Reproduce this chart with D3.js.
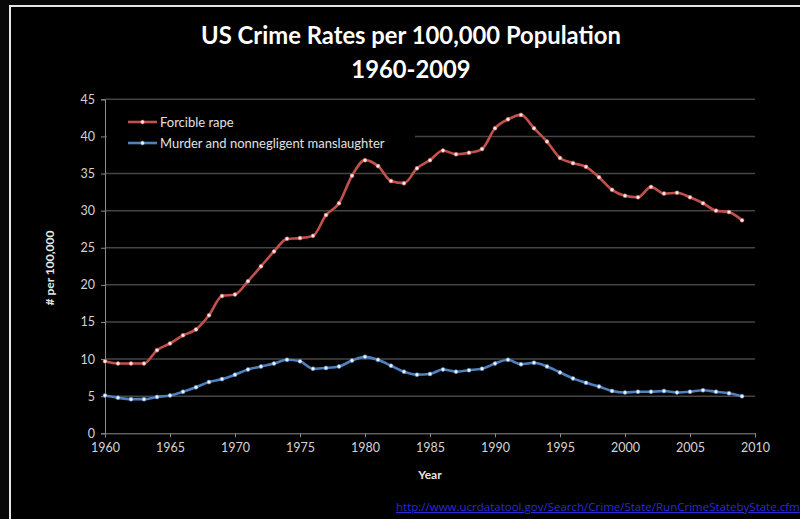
<!DOCTYPE html>
<html>
<head>
<meta charset="utf-8">
<script src="https://cdn.jsdelivr.net/npm/d3@7"></script>
<style>
  body { margin: 0; background: #080808; }
  svg { display: block; }
  text { font-family: Lato, "Open Sans", sans-serif; }
</style>
</head>
<body>
<svg id="chart" width="800" height="519"></svg>
<script>
'use strict';

// data
var years = d3.range(1960, 2010);
var rape = [9.7, 9.4, 9.4, 9.4, 11.2, 12.1, 13.2, 14.0, 15.9, 18.5,
            18.7, 20.5, 22.5, 24.5, 26.2, 26.3, 26.6, 29.4, 31.0, 34.7,
            36.8, 36.0, 34.0, 33.7, 35.7, 36.8, 38.1, 37.6, 37.8, 38.3,
            41.1, 42.3, 42.9, 41.1, 39.3, 37.1, 36.4, 35.9, 34.5, 32.8,
            32.0, 31.8, 33.2, 32.3, 32.4, 31.8, 31.0, 30.0, 29.8, 28.7];
var murder = [5.1, 4.8, 4.6, 4.6, 4.9, 5.1, 5.6, 6.2, 6.9, 7.3,
              7.9, 8.6, 9.0, 9.4, 9.9, 9.7, 8.7, 8.8, 9.0, 9.8,
              10.3, 9.9, 9.1, 8.3, 7.9, 8.0, 8.6, 8.3, 8.5, 8.7,
              9.4, 9.9, 9.3, 9.5, 9.0, 8.2, 7.4, 6.8, 6.3, 5.7,
              5.5, 5.6, 5.6, 5.7, 5.5, 5.6, 5.8, 5.6, 5.4, 5.0];
var seriesNames = ['Forcible rape', 'Murder and nonnegligent manslaughter'];
var xTicks = d3.range(1960, 2011, 5);
var yTicks = d3.range(0, 46, 5);

var colors = ['#c4504c', '#4f81bd'];
var markFill = ['#f8e8e8', '#eaf2fc'];

var svg = d3.select('#chart');

// frame
svg.append('rect').attr('x', 10).attr('y', 6).attr('width', 800).attr('height', 520)
  .attr('fill', '#000').attr('stroke', '#e6e6e6').attr('stroke-width', 2);

var x = d3.scaleLinear().domain([1960, 2010]).range([105, 755]);
var y = d3.scaleLinear().domain([0, 45]).range([433.3, 99.3]);

// gridlines
svg.append('g').selectAll('line').data(yTicks.filter(function(d) { return d > 0; }))
  .enter().append('line')
  .attr('x1', x(1960)).attr('x2', x(2010))
  .attr('y1', function(d) { return y(d); }).attr('y2', function(d) { return y(d); })
  .attr('stroke', '#454545').attr('stroke-width', 1.5);

// legend box hides the gridline behind it
svg.append('rect').attr('x', 107).attr('y', 108).attr('width', 308).attr('height', 50).attr('fill', '#000');

// axes
var xAxis = svg.append('g').attr('transform', 'translate(0,' + y(0) + ')')
  .call(d3.axisBottom(x).tickValues(xTicks).tickFormat(d3.format('d')).tickSize(4).tickPadding(6));
var yAxis = svg.append('g').attr('transform', 'translate(' + x(1960) + ',0)')
  .call(d3.axisLeft(y).tickValues(yTicks).tickSize(4).tickPadding(6));
[xAxis, yAxis].forEach(function(a) {
  a.select('.domain').attr('stroke', '#8a8a8a');
  a.selectAll('.tick line').attr('stroke', '#8a8a8a');
  a.selectAll('.tick text').attr('fill', '#d4d4d4').style('font-size', '12.5px')
    .style('font-family', 'Lato, sans-serif');
});

// series
var line = d3.line()
  .x(function(d, i) { return x(years[i]); })
  .y(function(d) { return y(d); })
  .curve(d3.curveMonotoneX);

[rape, murder].forEach(function(vals, k) {
  svg.append('path').datum(vals)
    .attr('d', line)
    .attr('fill', 'none')
    .attr('stroke', colors[k])
    .attr('stroke-width', 2.6);
  svg.append('g').selectAll('circle').data(vals).enter().append('circle')
    .attr('cx', function(d, i) { return x(years[i]); })
    .attr('cy', function(d) { return y(d); })
    .attr('r', 2)
    .attr('fill', markFill[k])
    .attr('stroke', colors[k])
    .attr('stroke-width', 0.6);
});

// legend
var legend = svg.append('g');
seriesNames.forEach(function(name, k) {
  var ly = 122 + k * 21;
  legend.append('line').attr('x1', 128).attr('x2', 157).attr('y1', ly).attr('y2', ly)
    .attr('stroke', colors[k]).attr('stroke-width', 2.6);
  legend.append('circle').attr('cx', 142.5).attr('cy', ly).attr('r', 2)
    .attr('fill', markFill[k]).attr('stroke', colors[k]).attr('stroke-width', 0.6);
  legend.append('text').attr('x', 160).attr('y', ly + 4.5)
    .attr('fill', '#e0e0e0').style('font-size', '13px').text(name);
});

// titles
svg.append('text').attr('x', 411).attr('y', 44).attr('text-anchor', 'middle')
  .attr('fill', '#fff').style('font-size', '23.8px').style('font-weight', 'bold')
  .text('US Crime Rates per 100,000 Population');
svg.append('text').attr('x', 411).attr('y', 78).attr('text-anchor', 'middle')
  .attr('fill', '#fff').style('font-size', '23.8px').style('font-weight', 'bold')
  .text('1960-2009');

svg.append('text').attr('x', 430).attr('y', 479).attr('text-anchor', 'middle')
  .attr('fill', '#e6e6e6').style('font-size', '12px').style('font-weight', 'bold')
  .text('Year');

svg.append('text').attr('transform', 'translate(54,268) rotate(-90)').attr('text-anchor', 'middle')
  .attr('fill', '#e6e6e6').style('font-size', '12px').style('font-weight', 'bold')
  .text('# per 100,000');

svg.append('text').attr('x', 396).attr('y', 511)
  .attr('fill', '#2a2ad8').style('font-size', '11.5px').style('text-decoration', 'underline')
  .style('font-family', '"Liberation Sans Narrow", "Open Sans", sans-serif')
  .text('http://www.ucrdatatool.gov/Search/Crime/State/RunCrimeStatebyState.cfm');
</script>
</body>
</html>
